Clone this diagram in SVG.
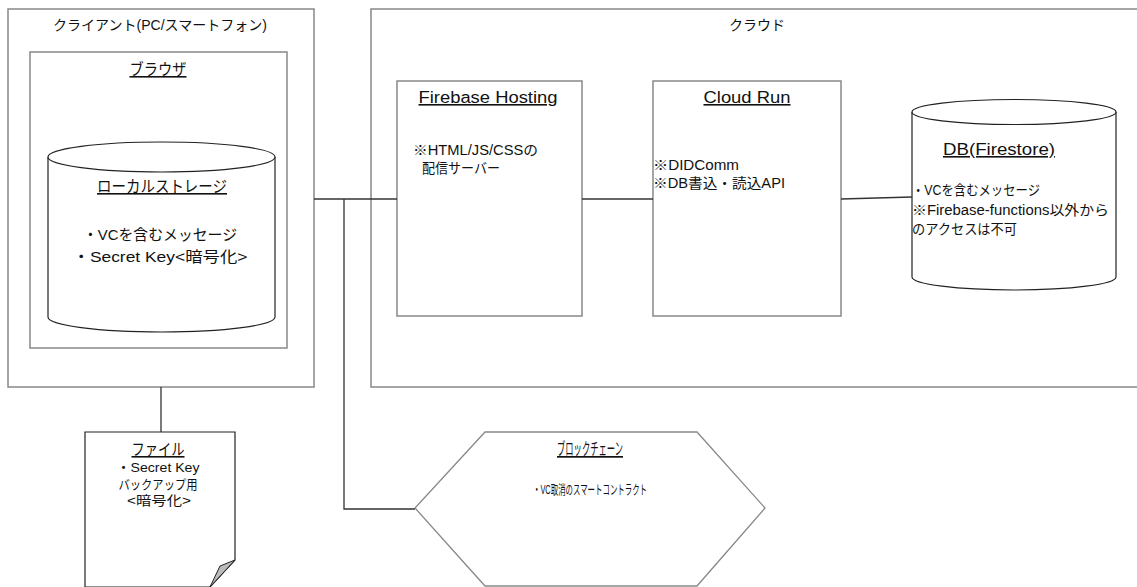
<svg xmlns="http://www.w3.org/2000/svg" width="1137" height="587" viewBox="0 0 1137 587">
<style>
text{font-family:"Liberation Sans","Noto Sans CJK JP",sans-serif;fill:#111;font-size:14px}
.t{font-size:14px}
.h{font-size:16px;text-decoration:underline}
.m{text-anchor:middle}
.box{fill:#fff;stroke:#888;stroke-width:1.5}
.cyl{fill:#fff;stroke:#222;stroke-width:1.2}
.con{fill:none;stroke:#333;stroke-width:1.3}
</style>
<rect width="1137" height="587" fill="#fff"/>
<g id="client">
<rect class="box" x="8" y="9" width="306" height="378"/>
<text class="t m" x="160" y="30" textLength="214" lengthAdjust="spacingAndGlyphs">クライアント(PC/スマートフォン)</text>
</g>
<g id="browser">
<rect class="box" x="30" y="52" width="257" height="296"/>
<text class="h m" x="158" y="75" textLength="57" lengthAdjust="spacingAndGlyphs">ブラウザ</text>
</g>
<g id="localstorage">
<path class="cyl" d="M48,157 L48,317 A113.5,15 0 0 0 275,317 L275,157"/>
<ellipse class="cyl" cx="161.5" cy="157" rx="113.5" ry="15"/>
<text class="h m" x="162" y="192" textLength="130" lengthAdjust="spacingAndGlyphs">ローカルストレージ</text>
<text class="m" x="160" y="240" style="font-size:15px" textLength="154" lengthAdjust="spacingAndGlyphs">・VCを含むメッセージ</text>
<text class="m" x="160" y="262" style="font-size:15px" textLength="175" lengthAdjust="spacingAndGlyphs">・Secret Key&lt;暗号化&gt;</text>
</g>
<g id="cloud">
<rect class="box" x="371" y="9" width="780" height="378"/>
<text class="t m" x="757" y="30" textLength="56" lengthAdjust="spacingAndGlyphs">クラウド</text>
</g>
<g id="hosting">
<rect class="box" x="397" y="81" width="185" height="235"/>
<text class="h m" x="488" y="103" textLength="139" lengthAdjust="spacingAndGlyphs">Firebase Hosting</text>
<text x="413" y="155" textLength="125" lengthAdjust="spacingAndGlyphs">※HTML/JS/CSSの</text>
<text x="422" y="173" textLength="78" lengthAdjust="spacingAndGlyphs">配信サーバー</text>
</g>
<g id="cloudrun">
<rect class="box" x="653" y="81" width="188" height="235"/>
<text class="h m" x="747" y="103" textLength="87" lengthAdjust="spacingAndGlyphs">Cloud Run</text>
<text x="653" y="170" textLength="86" lengthAdjust="spacingAndGlyphs">※DIDComm</text>
<text x="653" y="188" textLength="132" lengthAdjust="spacingAndGlyphs">※DB書込・読込API</text>
</g>
<g id="db">
<path class="cyl" d="M912,112 L912,277 A102,13 0 0 0 1116,277 L1116,112"/>
<ellipse class="cyl" cx="1014" cy="112" rx="102" ry="12.5"/>
<text class="h m" x="999" y="155" textLength="112" lengthAdjust="spacingAndGlyphs">DB(Firestore)</text>
<text x="912" y="195" textLength="128" lengthAdjust="spacingAndGlyphs">・VCを含むメッセージ</text>
<text x="912" y="215" textLength="197" lengthAdjust="spacingAndGlyphs">※Firebase-functions以外から</text>
<text x="912" y="234" textLength="105" lengthAdjust="spacingAndGlyphs">のアクセスは不可</text>
</g>
<g id="file">
<path d="M85,432 L235,432 L235,560 L210,587 L85,587 Z" fill="#fff" stroke="#222" stroke-width="1.2"/>
<path d="M235,560 L220,566 L210,587 Z" fill="#bbb" stroke="#222" stroke-width="1"/>
<text class="h m" x="158" y="455" textLength="53" lengthAdjust="spacingAndGlyphs">ファイル</text>
<text class="m" x="158" y="472" style="font-size:13px" textLength="83" lengthAdjust="spacingAndGlyphs">・Secret Key</text>
<text class="m" x="158" y="489" style="font-size:13px" textLength="79" lengthAdjust="spacingAndGlyphs">バックアップ用</text>
<text class="m" x="159" y="505" style="font-size:13px" textLength="64" lengthAdjust="spacingAndGlyphs">&lt;暗号化&gt;</text>
</g>
<g id="blockchain">
<polygon points="485,432 697,432 765,508 697,586 485,586 415,508" fill="#fff" stroke="#888" stroke-width="1.3"/>
<text class="h m" x="590" y="455" style="font-size:17px" textLength="66" lengthAdjust="spacingAndGlyphs">ブロックチェーン</text>
<text class="m" x="590" y="494" style="font-size:13px" textLength="114" lengthAdjust="spacingAndGlyphs">・VC取消のスマートコントラクト</text>
</g>
<g id="connectors">
<path class="con" d="M314,199 L397,199"/>
<path class="con" d="M344,199 L344,509 L415,509"/>
<path class="con" d="M582,199 L653,199"/>
<path class="con" d="M841,199 L912,197"/>
<path class="con" d="M161,387 L161,432"/>
</g>
</svg>
